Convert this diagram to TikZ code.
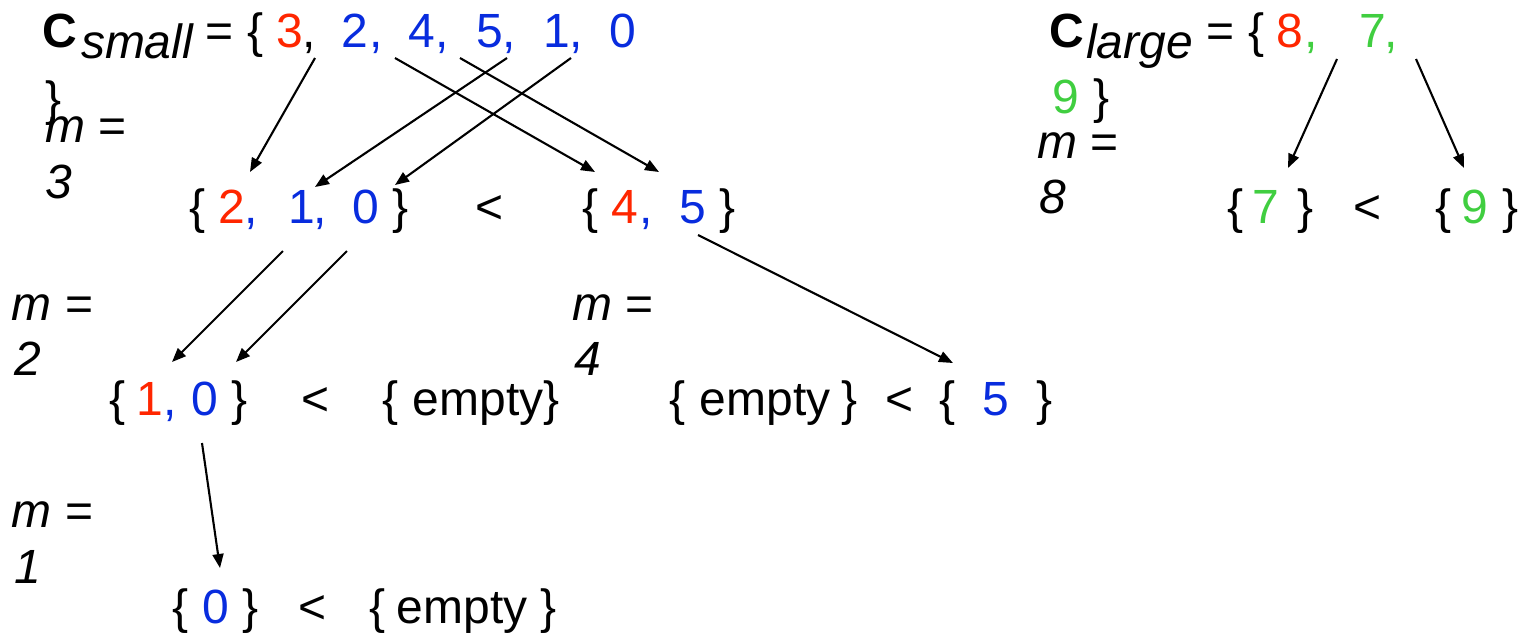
\documentclass[tikz,border=0pt]{standalone}
\usepackage{fontspec}
\setmainfont{Liberation Sans}
\usetikzlibrary{arrows.meta}
\definecolor{cred}{RGB}{255,38,0}
\definecolor{cblue}{RGB}{8,44,222}
\definecolor{cgreen}{RGB}{64,206,64}
\newcommand\fs{\fontsize{48}{52}\selectfont}
\begin{document}
\begin{tikzpicture}[x=1pt,y=-1pt,
  tk/.style={anchor=base,inner sep=0pt,outer sep=0pt,font=\fs},
  tkw/.style={tk,anchor=base west},
  rd/.style={text=cred},
  bl/.style={text=cblue},
  gr/.style={text=cgreen},
  arr/.style={-{Triangle[length=14pt,width=11pt]},line width=2.1pt},
]
\useasboundingbox (0,0) rectangle (1526,633);

% ---------- C_small ----------
\node[tk,font=\fs\bfseries] (Cs) at (60,47) {C};
\node[tkw,font=\fs\itshape] (subs) at (81,58) {small};
\node[tk] (eqs) at (220,47) {=};
\node[tk] (obs) at (256,47) {\{};
\node[tk,rd] (s3) at (290,47) {3};
\node[tk] (s3c) at (309,47) {,};
\node[tk,bl] (s2) at (355,47) {2};
\node[tk,bl] (s2c) at (376,47) {,};
\node[tk,bl] (s4) at (422,47) {4};
\node[tk,bl] (s4c) at (442,47) {,};
\node[tk,bl] (s5) at (490,47) {5};
\node[tk,bl] (s5c) at (509,47) {,};
\node[tk,bl] (s1) at (557,47) {1};
\node[tk,bl] (s1c) at (576,47) {,};
\node[tk,bl] (s0) at (623,47) {0};
\node[tk] (cbs) at (54,115) {\}};
\node[tkw] (m3a) at (45,142) {\textit{m} =};
\node[tkw,font=\fs\itshape] (m3b) at (45,198) {3};

% ---------- level 2 (small) ----------
\node[tk] (b1o) at (198,223) {\{};
\node[tk,rd] (b12) at (232,223) {2};
\node[tk,bl] (b12c) at (251,223) {,};
\node[tk,bl] (b11) at (302,223) {1};
\node[tk,bl] (b11c) at (320,223) {,};
\node[tk,bl] (b10) at (366,223) {0};
\node[tk] (b1c) at (401,223) {\}};
\node[tk] (lt1) at (490,223) {<};
\node[tk] (b2o) at (591,223) {\{};
\node[tk,rd] (b24) at (625,223) {4};
\node[tk,bl] (b24c) at (646,223) {,};
\node[tk,bl] (b25) at (693,223) {5};
\node[tk] (b2c) at (728,223) {\}};

% ---------- C_large ----------
\node[tk,font=\fs\bfseries] (Cl) at (1067,47) {C};
\node[tkw,font=\fs\itshape] (subl) at (1086,58) {large};
\node[tk] (eql) at (1221,47) {=};
\node[tk] (obl) at (1257,47) {\{};
\node[tk,rd] (l8) at (1290,47) {8};
\node[tk,gr] (l8c) at (1311,47) {,};
\node[tk,gr] (l7) at (1373,47) {7};
\node[tk,gr] (l7c) at (1391,47) {,};
\node[tk,gr] (l9) at (1066,113) {9};
\node[tk] (cbl) at (1102,113) {\}};
\node[tkw] (m8a) at (1037,158) {\textit{m} =};
\node[tkw,font=\fs\itshape] (m8b) at (1039,213) {8};
\node[tk] (c1o) at (1236,223) {\{};
\node[tk,gr] (c17) at (1266,223) {7};
\node[tk] (c1c) at (1305,223) {\}};
\node[tk] (lt2) at (1367,223) {<};
\node[tk] (c2o) at (1443,223) {\{};
\node[tk,gr] (c29) at (1475,223) {9};
\node[tk] (c2c) at (1510,223) {\}};

% ---------- level 3 ----------
\node[tkw] (m2a) at (12,320) {\textit{m} =};
\node[tkw,font=\fs\itshape] (m2b) at (14,375) {2};
\node[tk] (d1o) at (118,415) {\{};
\node[tk,rd] (d11) at (150,415) {1};
\node[tk,bl] (d11c) at (170,415) {,};
\node[tk,bl] (d10) at (205,415) {0};
\node[tk] (d1c) at (240,415) {\}};
\node[tk] (lt3) at (316,415) {<};
\node[tk] (d2o) at (391,415) {\{};
\node[tk] (d2e) at (478,415) {empty};
\node[tk] (d2c) at (552,415) {\}};
\node[tkw] (m4a) at (572,320) {\textit{m} =};
\node[tkw,font=\fs\itshape] (m4b) at (574,375) {4};
\node[tk] (e1o) at (678,415) {\{};
\node[tk] (e1e) at (765,415) {empty};
\node[tk] (e1c) at (850,415) {\}};
\node[tk] (lt4) at (900,415) {<};
\node[tk] (e2o) at (948,415) {\{};
\node[tk,bl] (e25) at (996,415) {5};
\node[tk] (e2c) at (1045,415) {\}};

% ---------- level 4 ----------
\node[tkw] (m1a) at (12,527) {\textit{m} =};
\node[tkw,font=\fs\itshape] (m1b) at (14,583) {1};
\node[tk] (f1o) at (181,623) {\{};
\node[tk,bl] (f10) at (216,623) {0};
\node[tk] (f1c) at (251,623) {\}};
\node[tk] (lt5) at (313,623) {<};
\node[tk] (f2o) at (378,623) {\{};
\node[tk] (f2e) at (462,623) {empty};
\node[tk] (f2c) at (549,623) {\}};

% ---------- connector ends ----------
\coordinate (a1s) at (315,58);  \coordinate (a1e) at (250,172);
\coordinate (a2s) at (395,58);  \coordinate (a2e) at (595,172);
\coordinate (a3s) at (460,58);  \coordinate (a3e) at (659,172);
\coordinate (a4s) at (507,58);  \coordinate (a4e) at (315,187);
\coordinate (a5s) at (571,58);  \coordinate (a5e) at (395,185);
\coordinate (a6s) at (1337,59); \coordinate (a6e) at (1288,168);
\coordinate (a7s) at (1416,59); \coordinate (a7e) at (1464,168);
\coordinate (a8s) at (283,251); \coordinate (a8e) at (172,362);
\coordinate (a9s) at (347,251); \coordinate (a9e) at (236,362);
\coordinate (a10s) at (698,235); \coordinate (a10e) at (953,363);
\coordinate (a11s) at (202,443); \coordinate (a11e) at (220,568);

\foreach \i in {1,...,11} \draw[arr] (a\i s) -- (a\i e);
\end{tikzpicture}
\end{document}
